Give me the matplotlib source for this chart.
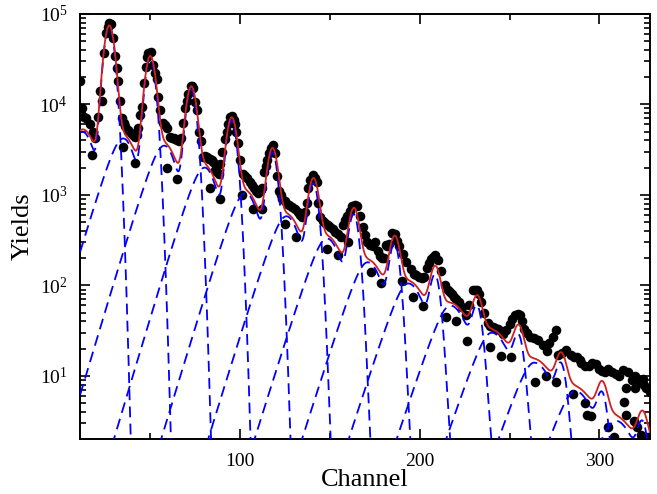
import numpy as np
import matplotlib
matplotlib.use("Agg")
import matplotlib.pyplot as plt
from matplotlib.ticker import MultipleLocator, LogLocator, NullFormatter

# measured yields (main series)
data_ch = [11, 12, 13, 14.5, 16.5, 18, 19.5, 21, 22, 23, 24, 25.5, 27, 28, 29.4, 30.5, 32, 33,
           34.4, 36, 37.7, 39.5, 41.6, 43.3, 44.4, 45.5, 46.3, 47.8, 49, 50.5, 51.7, 53.9, 54.5,
           55.6, 57.2, 59.5, 61, 63, 65, 67, 68.3, 69.5, 71, 72.8, 74, 75, 76, 77, 78, 79.6, 81.5,
           83.5, 85, 86, 88, 90, 91.8, 93.5, 95.7, 97, 98, 99, 100, 101.8, 104, 105.7, 108, 110,
           112, 113.5, 115, 117, 118.5, 119.6, 120.7, 121.5, 123.5, 126, 129, 132, 134.7, 137,
           138, 139, 140.8, 143, 143.6, 144.7, 147.5, 150, 153, 156, 157.5, 159.7, 162.5, 165,
           167, 168.6, 170.8, 174, 175.2, 178, 180, 181, 183, 184.8, 186.2, 187.6, 188.5, 190.4,
           192.3, 195, 198, 201, 204, 206.5, 208.5, 210.4, 212, 214, 217, 219, 221.6, 225.5,
           229.5, 232, 234, 237.7, 240.7, 243.5, 246.4, 250, 253, 255.8, 258, 261.6, 266, 271,
           272, 275.6, 276.7, 281.6, 287.5, 290, 292, 296, 301.5, 305, 309, 313, 314.6, 316,
           319.6, 320, 322, 324, 326, 328]
data_y = [1.8e4, 9.1e3, 7.3e3, 7.0e3, 6.0e3, 4.9e3, 4.3e3, 7.3e3, 1.4e4, 1.1e4, 3.7e4, 6.1e4,
          8.0e4, 7.8e4, 5.4e4, 3.4e4, 1.8e4, 1.1e4, 7.0e3, 5.7e3, 5.2e3, 4.8e3, 4.4e3, 5.5e3,
          7.7e3, 9.4e3, 1.7e4, 2.6e4, 3.7e4, 3.8e4, 2.7e4, 1.9e4, 1.2e4, 8.7e3, 6.3e3, 5.5e3,
          4.4e3, 4.2e3, 4.0e3, 4.2e3, 6.3e3, 9.2e3, 1.3e4, 1.6e4, 1.5e4, 1.07e4, 8.7e3, 4.9e3,
          3.9e3, 2.6e3, 2.6e3, 2.5e3, 2.3e3, 1.9e3, 1.7e3, 3.0e3, 4.1e3, 6.0e3, 7.5e3, 6.0e3,
          4.9e3, 3.7e3, 2.4e3, 1.7e3, 1.55e3, 1.4e3, 1.2e3, 1.05e3, 1.2e3, 1.8e3, 2.4e3, 3.3e3,
          3.6e3, 2.9e3, 1.6e3, 1.1e3, 900, 800, 740, 640, 570, 820, 1.2e3, 1.45e3, 1.66e3,
          1.37e3, 820, 570, 490, 440, 390, 345, 470, 580, 750, 750, 580, 440, 300, 270, 300,
          210, 200, 280, 290, 380, 370, 310, 270, 220, 180, 150, 130, 120, 155, 195, 215, 190,
          145, 100, 85, 75, 66, 47, 90, 90, 66, 38, 35, 33, 29, 37, 47, 47, 33, 27, 25, 19, 23,
          32, 17, 19.5, 16, 14, 13, 14, 11.4, 12, 10.5, 11.5, 7.4, 11, 7.4, 10, 8.5, 9.2, 7.3,
          6.6]

# more points of the same series, between the ones above
extra_ch = [26.3, 31.3, 35.2, 40.5, 42.5, 48.4, 52.8, 58.3, 62, 64, 66, 70.3, 73.5, 80.5, 82.5,
            84.2, 87, 89, 92.6, 94.6, 96.4, 102.8, 106.8, 109, 111, 114.3, 116, 122.5, 124.8,
            127.5, 130.5, 133.3, 136, 141.8, 146, 148.8, 151.5, 154.5, 158.5, 161, 163.8, 169.7,
            172.5, 176.5, 179, 182, 197, 199.5, 202.5, 205.3, 207.5, 215.5, 218, 220.3, 223.5,
            227.5, 231, 233, 235.8, 239, 242, 245, 248, 251.5, 254.5, 257, 259.8, 263.5, 268.5,
            274, 279, 284, 286, 289, 294, 298, 300, 303, 307, 311, 318, 325]
extra_y = [7.2e4, 2.5e4, 6.2e3, 4.6e3, 4.6e3, 3.3e4, 2.2e4, 5.9e3, 4.3e3, 4.1e3, 3.9e3, 1.1e4,
           1.6e4, 2.7e3, 2.5e3, 2.4e3, 1.8e3, 2.2e3, 5.0e3, 7.2e3, 6.8e3, 1.6e3, 1.3e3, 1.1e3,
           1.1e3, 2.1e3, 2.9e3, 1.0e3, 850, 770, 690, 600, 650, 1.55e3, 520, 460, 415, 370, 530,
           660, 770, 360, 280, 240, 200, 270, 135, 125, 125, 175, 205, 90, 80, 70, 58, 60, 88,
           80, 50, 36, 34, 31, 32, 42, 48, 40, 30, 26, 22, 27, 18, 17, 16, 15, 13, 13.5, 12, 11,
           11, 10, 9, 8]

# lower group of points
low_ch = [17.7, 35, 41.6, 59.5, 65, 83, 89, 101, 107, 112.4, 125, 131, 148.6, 154.7, 160,
          172.6, 178.5, 190, 196.5, 202, 214.5, 220, 226.5, 239, 245, 251, 264, 270.5, 276,
          285, 292, 293, 295.5, 305, 308, 313.5, 315, 319, 320.7, 323, 327]
low_y = [2.75e3, 3.4e3, 2.25e3, 2.0e3, 1.5e3, 1.2e3, 900, 1.0e3, 700, 690, 480, 340, 250, 218,
         305, 140, 105, 112, 74, 59, 45, 40, 24.5, 21, 16.5, 16, 8.5, 10, 8.5, 6.3, 5.0, 3.7,
         3.6, 2.7, 2.1, 5.1, 3.7, 3.2, 2.7, 2.2, 2.1]

# fitted components: centre, peak height, tail height, tail slope length, tail fall width
centers = [27.2, 50.0, 72.8, 95.3, 118.0, 140.8, 163.3, 186.0, 208.6, 232.0, 255.0, 278.7,
           301.5, 324.0, 346.7]
peak_amp = [7.2e4, 3.2e4, 1.45e4, 6.5e3, 2.9e3, 1.3e3, 580, 270, 115, 48, 22, 10.5, 5.0, 2.4, 1.1]
tail_amp = [5.0e3, 4.2e3, 3.5e3, 2.0e3, 1.05e3, 580, 330, 180, 105, 60, 30, 14, 6.8, 3.2, 1.5]
tail_lam = [6.5, 6.5, 6.5, 6.5, 6.6, 6.7, 6.8, 6.9, 7.0, 7.2, 7.4, 7.6, 7.8, 8.0, 8.2]
tail_sr = [6, 6, 6, 6, 6.3, 6.6, 7, 7.3, 7.8, 8.4, 8.8, 9, 9, 9, 9]


def component(x, c, a, b, lam, sr, s=2.6, d=15.0, r=6.0):
    narrow = a * np.exp(-(x - c) ** 2 / (2 * s ** 2))
    u = x - (c - d)
    left = b * np.exp(-(np.sqrt(u ** 2 + r ** 2) - r) / lam)
    right = b * np.exp(-u ** 2 / (2 * sr ** 2))
    return narrow + np.where(u < 0, left, right)


plt.rcParams['font.family'] = ['Liberation Serif', 'DejaVu Serif']
plt.rcParams['mathtext.fontset'] = 'stix'

fig = plt.figure(figsize=(6.57, 4.94), dpi=100)
ax = fig.add_axes([0.122, 0.111, 0.867, 0.861])

x = np.linspace(10, 330, 3000)
total = np.zeros_like(x)
for c, a, b, lam, sr in zip(centers, peak_amp, tail_amp, tail_lam, tail_sr):
    y = component(x, c, a, b, lam, sr)
    total += y
    ax.plot(x, y, color='#0000ff', lw=1.3, ls=(0, (6, 3.5)), zorder=3)

for xs, ys in [(data_ch, data_y), (extra_ch, extra_y), (low_ch, low_y)]:
    ax.scatter(xs, ys, s=48, color='black', zorder=2, lw=0)
ax.plot(x, total, color='#d02020', lw=1.3, zorder=4)

ax.set_yscale('log')
ax.set_xlim(11, 328)
ax.set_ylim(2, 1e5)
ax.xaxis.set_major_locator(MultipleLocator(100))
ax.xaxis.set_minor_locator(MultipleLocator(50))
ax.yaxis.set_major_locator(LogLocator(base=10, numticks=10))
ax.yaxis.set_minor_locator(LogLocator(base=10, subs=np.arange(2, 10), numticks=20))
ax.yaxis.set_minor_formatter(NullFormatter())
ax.tick_params(which='both', direction='in', top=True, right=True, width=1.2, labelsize=14)
ax.tick_params(which='major', length=7)
ax.tick_params(which='minor', length=4)
ax.tick_params(axis='y', pad=9)
ax.tick_params(axis='x', pad=10)
for sp in ax.spines.values():
    sp.set_linewidth(1.4)

ax.set_xlabel('Channel', fontsize=19, labelpad=-1)
ax.set_ylabel('Yields', fontsize=19, labelpad=4)

fig.savefig('out.png', dpi=100)
